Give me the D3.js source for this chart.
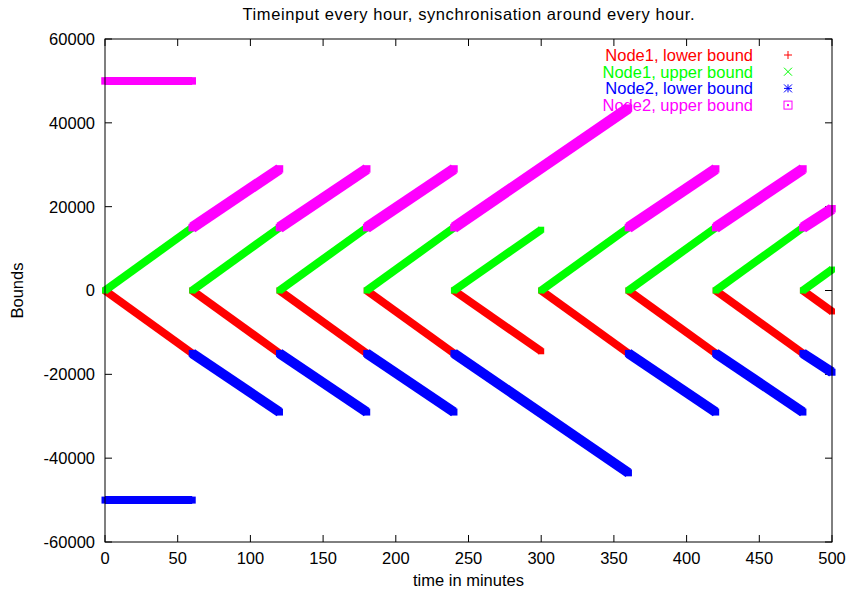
<!DOCTYPE html>
<html>
<head>
<meta charset="utf-8">
<title>Timeinput every hour</title>
<script src="https://cdn.jsdelivr.net/npm/d3@7"></script>
<style>
    body { margin: 0; background: #fff; }
    svg { display: block; font-family: "Liberation Sans", Arial, sans-serif; }
</style>
</head>
<body>
<div id="chart"></div>
<script>
// each segment: [start minute, end minute, start value, end value]
const node1Lower = [[0, 60, 0, -15000], [60, 120, 0, -15000], [120, 180, 0, -15000], [180, 240, 0, -15000],
    [240, 300, 0, -14500], [300, 360, 0, -15000], [360, 420, 0, -15000], [420, 480, 0, -15000], [480, 500, 0, -5000]];
const node1Upper = [[0, 60, 0, 15000], [60, 120, 0, 15000], [120, 180, 0, 15000], [180, 240, 0, 15000],
    [240, 300, 0, 14500], [300, 360, 0, 15000], [360, 420, 0, 15000], [420, 480, 0, 15000], [480, 500, 0, 5000]];
const node2Lower = [[0, 60, -50000, -50000], [60, 120, -15000, -29000], [120, 180, -15000, -29000],
    [180, 240, -15000, -29000], [240, 360, -15000, -43500], [360, 420, -15000, -29000],
    [420, 480, -15000, -29000], [480, 500, -15000, -19500]];
const node2Upper = [[0, 60, 50000, 50000], [60, 120, 15000, 29000], [120, 180, 15000, 29000],
    [180, 240, 15000, 29000], [240, 360, 15000, 43500], [360, 420, 15000, 29000],
    [420, 480, 15000, 29000], [480, 500, 15000, 19500]];

const seriesNames = ["Node1, lower bound", "Node1, upper bound", "Node2, lower bound", "Node2, upper bound"];
const seriesColors = ["#ff0000", "#00ff00", "#0000ff", "#ff00ff"];
const seriesMarkers = ["plus", "cross", "star", "box"];
const xTicks = [0, 50, 100, 150, 200, 250, 300, 350, 400, 450, 500];
const yTicks = [-60000, -40000, -20000, 0, 20000, 40000, 60000];

const width = 850, height = 595;
const margin = { left: 105, right: 18, top: 39, bottom: 53 };
const fontSize = "16.5px";

const svg = d3.select("#chart").append("svg")
    .attr("width", width)
    .attr("height", height);

const x = d3.scaleLinear().domain([0, 500]).range([margin.left, width - margin.right]);
const y = d3.scaleLinear().domain([-60000, 60000]).range([height - margin.bottom, margin.top]);

// title and axis labels
svg.append("text")
    .attr("x", (x(0) + x(500)) / 2)
    .attr("y", 20)
    .attr("text-anchor", "middle")
    .attr("textLength", 452)
    .attr("lengthAdjust", "spacing")
    .style("font-size", fontSize)
    .text("Timeinput every hour, synchronisation around every hour.");

svg.append("text")
    .attr("x", (x(0) + x(500)) / 2)
    .attr("y", 586)
    .attr("text-anchor", "middle")
    .style("font-size", fontSize)
    .text("time in minutes");

svg.append("text")
    .attr("transform", "translate(23," + y(0) + ") rotate(-90)")
    .attr("text-anchor", "middle")
    .style("font-size", fontSize)
    .text("Bounds");

// ticks, inward on all sides
const tickLen = 7;
const axes = svg.append("g").attr("stroke", "#000").attr("stroke-width", 1);
xTicks.forEach(t => {
    axes.append("line").attr("x1", x(t)).attr("x2", x(t)).attr("y1", y(-60000)).attr("y2", y(-60000) - tickLen);
    axes.append("line").attr("x1", x(t)).attr("x2", x(t)).attr("y1", y(60000)).attr("y2", y(60000) + tickLen);
});
yTicks.forEach(t => {
    axes.append("line").attr("x1", x(0)).attr("x2", x(0) + tickLen).attr("y1", y(t)).attr("y2", y(t));
    axes.append("line").attr("x1", x(500)).attr("x2", x(500) - tickLen).attr("y1", y(t)).attr("y2", y(t));
});

svg.selectAll(".xlab").data(xTicks).enter().append("text")
    .attr("x", d => x(d))
    .attr("y", 564)
    .attr("text-anchor", "middle")
    .style("font-size", fontSize)
    .text(d => d);

svg.selectAll(".ylab").data(yTicks).enter().append("text")
    .attr("x", 95)
    .attr("y", d => y(d))
    .attr("dy", "0.36em")
    .attr("text-anchor", "end")
    .style("font-size", fontSize)
    .text(d => d);

// data bands (dense point markers drawn as bands, small square marker at each end)
const allSeries = [node1Lower, node1Upper, node2Lower, node2Upper];
const slopeWidth = [8, 8, 10, 11];
const endSize = [6, 6, 7, 7.5];
allSeries.forEach((segs, i) => {
    const g = svg.append("g");
    g.selectAll("line").data(segs).enter().append("line")
        .attr("x1", d => x(d[0]))
        .attr("x2", d => x(d[1]))
        .attr("y1", d => y(d[2]))
        .attr("y2", d => y(d[3]))
        .attr("stroke", seriesColors[i])
        .attr("stroke-width", d => d[2] === d[3] ? 8 : slopeWidth[i])
        .attr("stroke-linecap", "butt");
    const ends = segs.flatMap(d => [[d[0], d[2]], [d[1], d[3]]]);
    g.selectAll("rect").data(ends).enter().append("rect")
        .attr("x", d => x(d[0]) - endSize[i] / 2)
        .attr("y", d => y(d[1]) - endSize[i] / 2)
        .attr("width", endSize[i])
        .attr("height", endSize[i])
        .attr("fill", seriesColors[i]);
});

// frame
svg.append("rect")
    .attr("x", x(0))
    .attr("y", y(60000))
    .attr("width", x(500) - x(0))
    .attr("height", y(-60000) - y(60000))
    .attr("fill", "none")
    .attr("stroke", "#000")
    .attr("stroke-width", 1);

// legend
function marker(g, type, color, cx, cy) {
    const s = 4;
    const m = g.append("g").attr("stroke", color).attr("stroke-width", 1).attr("fill", "none");
    if (type === "plus" || type === "star") {
        m.append("line").attr("x1", cx - s).attr("x2", cx + s).attr("y1", cy).attr("y2", cy);
        m.append("line").attr("x1", cx).attr("x2", cx).attr("y1", cy - s).attr("y2", cy + s);
    }
    if (type === "cross" || type === "star") {
        m.append("line").attr("x1", cx - s).attr("x2", cx + s).attr("y1", cy - s).attr("y2", cy + s);
        m.append("line").attr("x1", cx - s).attr("x2", cx + s).attr("y1", cy + s).attr("y2", cy - s);
    }
    if (type === "box") {
        m.append("rect").attr("x", cx - s).attr("y", cy - s).attr("width", 2 * s).attr("height", 2 * s);
        m.append("rect").attr("x", cx - 0.5).attr("y", cy - 0.5).attr("width", 1).attr("height", 1)
            .attr("fill", color);
    }
}

const legend = svg.append("g");
seriesNames.forEach((name, i) => {
    const cy = 55 + i * 16.7;
    legend.append("text")
        .attr("x", 753)
        .attr("y", cy)
        .attr("dy", "0.36em")
        .attr("text-anchor", "end")
        .attr("fill", seriesColors[i])
        .style("font-size", fontSize)
        .text(name);
    marker(legend, seriesMarkers[i], seriesColors[i], 788, cy);
});
</script>
</body>
</html>
